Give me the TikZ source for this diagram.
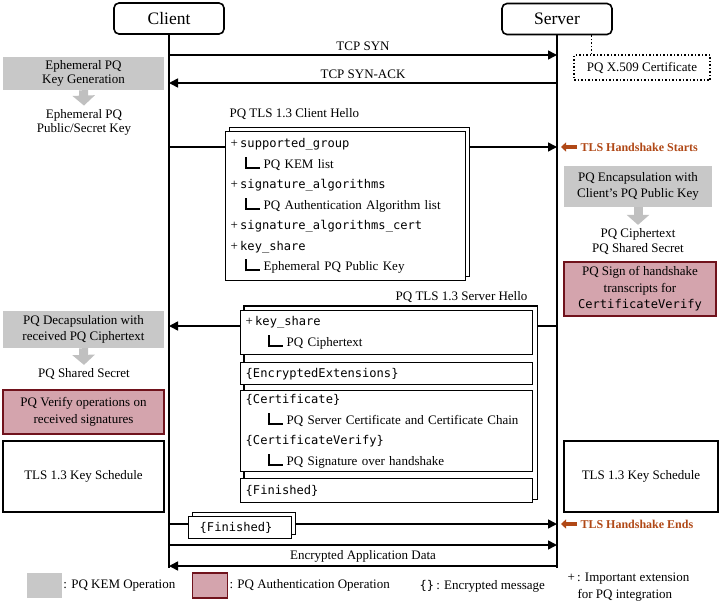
\documentclass[tikz,border=0pt]{standalone}
\usepackage{fontspec}
\setmainfont{Liberation Serif}
\setmonofont{DejaVu Sans Mono}[Scale=0.93]
\usetikzlibrary{arrows.meta,shadows,backgrounds}

\definecolor{kemgray}{RGB}{200,200,200}
\definecolor{kemarrowgray}{RGB}{192,192,192}
\definecolor{authpink}{RGB}{212,164,173}
\definecolor{authred}{RGB}{112,18,28}
\definecolor{hsorange}{RGB}{176,72,22}

% tree corner in front of a sub item
\newcommand\branch{\rule[-0.5pt]{2pt}{12pt}\rule[-0.5pt]{13pt}{2pt}\hspace{4pt}}
\newcommand\ext[1]{+\,\texttt{#1}}

\begin{document}
\begin{tikzpicture}[x=1pt,y=-1pt,
  every node/.style={font=\fontsize{13}{15}\selectfont},
  party/.style={draw,line width=1.6pt,rounded corners=5pt,minimum width=110pt,minimum height=31pt,font=\fontsize{17.5}{19}\selectfont},
  life/.style={line width=1.6pt},
  msg/.style={line width=1.6pt,-{Triangle[length=9pt,width=9pt]}},
  kem/.style={fill=kemgray,align=center,inner sep=0pt,font=\fontsize{13}{16}\selectfont},
  auth/.style={fill=authpink,draw=authred,line width=1.6pt,align=center,inner sep=0pt,font=\fontsize{13}{16.5}\selectfont},
  opbox/.style={draw,line width=1.4pt,minimum height=71pt},
  kemarrow/.style={draw=kemarrowgray,line width=9pt,-{Triangle[width=22pt,length=10pt]}},
  pdu/.style={draw,fill=white,line width=1.4pt,align=left,inner xsep=5pt,inner ysep=0pt,text width=282pt,font=\fontsize{13}{20.5}\selectfont},
  stack/.style={copy shadow={shadow xshift=4pt,shadow yshift=4pt,fill=white,draw=black,line width=1.4pt}},
  hsnote/.style={text=hsorange,font=\fontsize{12}{14}\selectfont\bfseries,anchor=west},
  hsarrow/.style={draw=hsorange,line width=3.5pt,-{Triangle[length=5pt,width=9pt]}},
  legendbox/.style={minimum width=35pt,minimum height=25pt,inner sep=0pt}]
\useasboundingbox (0,0) rectangle (721,603);

% parties and lifelines
\node[party] (client) at (169,18.5) {Client};
\node[party] (server) at (557,19) {Server};
\coordinate (cEnd) at (169,568);
\coordinate (sEnd) at (557,568);
\draw[life] (client.south) -- (cEnd);
\draw[life] (server.south) -- (sEnd);
\foreach \n/\y in {syn/55,ack/83,ch/147,sh/326,fin/524,app/545,appr/566} {
  \coordinate (c\n) at (169,\y);
  \coordinate (s\n) at (557,\y);
}

% TCP
\draw[msg] (csyn) -- node[above] (synlbl) {TCP SYN} (ssyn);
\draw[msg] (sack) -- node[above] (acklbl) {TCP SYN-ACK} (cack);
\node[draw,dotted,line width=1.5pt,minimum width=136pt,minimum height=25pt] (cert) at (642,67.5) {PQ X.509 Certificate};
\draw[dotted,line width=1.5pt] ([xshift=18pt]cert.north west) -- ([xshift=18pt]cert.north west |- server.south);

% client key generation
\node[kem,minimum width=161pt,minimum height=33pt,font=\fontsize{13}{14}\selectfont] (keygen) at (83.5,73.5) {Ephemeral PQ\\Key Generation};
\node[align=center,font=\fontsize{13}{14}\selectfont] (keypair) at (84,122) {Ephemeral PQ\\Public/Secret Key};
\draw[kemarrow] (keygen.south) -- (keypair.north);

% client hello
\node[anchor=west] (chlbl) at (226,114) {PQ TLS 1.3 Client Hello};
\node[pdu,stack,text width=230pt,minimum height=149pt,anchor=north west] (chello) at (225,131) {%
  \ext{supported\_group}\\
  \hspace*{14pt}\branch PQ KEM list\\
  \ext{signature\_algorithms}\\
  \hspace*{14pt}\branch PQ Authentication Algorithm list\\
  \ext{signature\_algorithms\_cert}\\
  \ext{key\_share}\\
  \hspace*{14pt}\branch Ephemeral PQ Public Key};
\draw[life] (cch) -- (cch -| chello.west);
\draw[msg] ([xshift=4pt]cch -| chello.east) -- (sch);
\node[hsnote] (hsStart) at (577,147) {TLS Handshake Starts};
\draw[hsarrow] (hsStart.west) -- ([xshift=4pt]sch);

% server encapsulation and signature
\node[kem,minimum width=148pt,minimum height=41pt] (encap) at (638,186.5) {PQ Encapsulation with\\Client's PQ Public Key};
\node[align=center,font=\fontsize{13}{15}\selectfont] (ctss) at (638,241.5) {PQ Ciphertext\\PQ Shared Secret};
\draw[kemarrow] (encap.south) -- (ctss.north);
\node[auth,minimum width=152pt,minimum height=54pt] (sign) at (640,289) {PQ Sign of handshake\\transcripts for\\\texttt{CertificateVerify}};

% server hello
\node[anchor=south east] (shlbl) at (531,306) {PQ TLS 1.3 Server Hello};
\node[pdu,minimum height=44pt,anchor=north west] (sh1) at (240,310) {%
  \ext{key\_share}\\
  \hspace*{22pt}\branch PQ Ciphertext};
\node[pdu,minimum height=22pt,anchor=north west] (sh2) at (240,362) {\texttt{\{EncryptedExtensions\}}};
\node[pdu,minimum height=81pt,anchor=north west] (sh3) at (240,390) {%
  \texttt{\{Certificate\}}\\
  \hspace*{22pt}\branch PQ Server Certificate and Certificate Chain\\
  \texttt{\{CertificateVerify\}}\\
  \hspace*{22pt}\branch PQ Signature over handshake};
\node[pdu,minimum height=24pt,anchor=north west] (sh4) at (240,478) {\texttt{\{Finished\}}};
\begin{scope}[on background layer]
  \draw[fill=white,line width=1.4pt] ([shift={(4pt,4pt)}]sh1.north west) rectangle ([shift={(4pt,4pt)}]sh4.south east);
\end{scope}
\draw[life] (ssh) -- ([xshift=4pt]ssh -| sh1.east);
\draw[msg] (csh -| sh1.west) -- (csh);

% client decapsulation and verification
\node[kem,minimum width=161pt,minimum height=37pt] (decap) at (83.5,329.5) {PQ Decapsulation with\\received PQ Ciphertext};
\node (ssec) at (84,374) {PQ Shared Secret};
\draw[kemarrow] (decap.south) -- (ssec.north);
\node[auth,minimum width=161pt,minimum height=44pt] (verify) at (83.5,412) {PQ Verify operations on\\received signatures};

% key schedules
\node[opbox,minimum width=161pt] (cks) at (83.5,476.5) {TLS 1.3 Key Schedule};
\node[opbox,minimum width=154pt] (sks) at (641,476.5) {TLS 1.3 Key Schedule};

% client finished and application data
\node[pdu,stack,text width=93pt,minimum height=22pt,anchor=north west] (cfinbox) at (188,516) {\hspace*{6pt}\texttt{\{Finished\}}};
\draw[life] (cfin) -- (cfin -| cfinbox.west);
\draw[msg] ([xshift=4pt]cfin -| cfinbox.east) -- (sfin);
\node[hsnote] (hsEnd) at (577,524) {TLS Handshake Ends};
\draw[hsarrow] (hsEnd.west) -- ([xshift=4pt]sfin);
\draw[msg] (capp) -- (sapp);
\draw[msg] (sappr) -- node[above] (applbl) {Encrypted Application Data} (cappr);

% legend
\node[legendbox,fill=kemgray] (lgkem) at (44.5,585.5) {};
\node[anchor=west,inner sep=1pt] (lgkemtxt) at (lgkem.east) {: PQ KEM Operation};
\node[legendbox,fill=authpink,draw=authred,line width=1.6pt] (lgauth) at (210,585.5) {};
\node[anchor=west,inner sep=1pt] (lgauthtxt) at (lgauth.east) {: PQ Authentication Operation};
\node[anchor=west] (lgenc) at (416,586) {\texttt{\{\}}\,: Encrypted message};
\node[anchor=west,align=left,font=\fontsize{13}{17}\selectfont] (lgext) at (564,587) {+\,: Important extension\\\hspace*{10pt}for PQ integration};
\end{tikzpicture}
\end{document}
